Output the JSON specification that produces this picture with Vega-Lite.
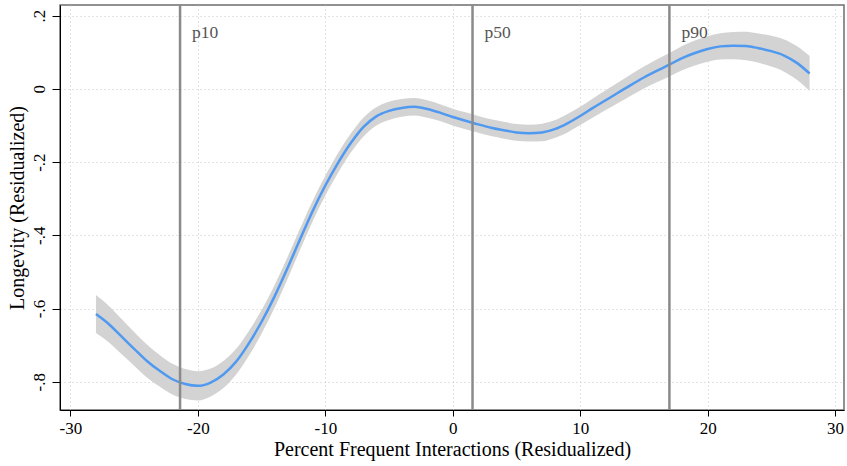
{
  "$schema": "https://vega.github.io/schema/vega-lite/v6.json",
  "width": 784,
  "height": 405,
  "autosize": "none",
  "padding": {"left": 60, "top": 5, "right": 3, "bottom": 56},
  "background": "white",
  "config": {
    "font": "Liberation Serif",
    "view": {"stroke": "#6e6e6e", "strokeWidth": 1.5},
    "axis": {
      "labelFont": "Liberation Serif",
      "titleFont": "Liberation Serif",
      "labelFontSize": 17,
      "titleFontSize": 20,
      "titleFontWeight": "normal",
      "labelColor": "#000",
      "titleColor": "#000",
      "domainColor": "#000",
      "tickColor": "#000",
      "gridColor": "#c8c8c8",
      "gridDash": [1, 3],
      "gridWidth": 1
    }
  },
  "datasets": {
    "curve": [
      {"x": -28, "y": -0.615, "lo": -0.667, "hi": -0.563},
      {"x": -27, "y": -0.642, "lo": -0.692, "hi": -0.592},
      {"x": -26, "y": -0.676, "lo": -0.724, "hi": -0.628},
      {"x": -25, "y": -0.710, "lo": -0.756, "hi": -0.664},
      {"x": -24, "y": -0.743, "lo": -0.788, "hi": -0.698},
      {"x": -23, "y": -0.770, "lo": -0.813, "hi": -0.727},
      {"x": -22, "y": -0.793, "lo": -0.835, "hi": -0.751},
      {"x": -21, "y": -0.806, "lo": -0.847, "hi": -0.765},
      {"x": -20, "y": -0.811, "lo": -0.851, "hi": -0.771},
      {"x": -19, "y": -0.802, "lo": -0.840, "hi": -0.764},
      {"x": -18, "y": -0.780, "lo": -0.817, "hi": -0.743},
      {"x": -17, "y": -0.745, "lo": -0.780, "hi": -0.710},
      {"x": -16, "y": -0.695, "lo": -0.729, "hi": -0.661},
      {"x": -15, "y": -0.636, "lo": -0.668, "hi": -0.604},
      {"x": -14, "y": -0.568, "lo": -0.599, "hi": -0.537},
      {"x": -13, "y": -0.492, "lo": -0.522, "hi": -0.462},
      {"x": -12, "y": -0.412, "lo": -0.441, "hi": -0.383},
      {"x": -11, "y": -0.334, "lo": -0.362, "hi": -0.306},
      {"x": -10, "y": -0.264, "lo": -0.291, "hi": -0.237},
      {"x": -9, "y": -0.202, "lo": -0.229, "hi": -0.175},
      {"x": -8, "y": -0.148, "lo": -0.174, "hi": -0.122},
      {"x": -7, "y": -0.104, "lo": -0.130, "hi": -0.078},
      {"x": -6, "y": -0.075, "lo": -0.100, "hi": -0.050},
      {"x": -5, "y": -0.060, "lo": -0.085, "hi": -0.035},
      {"x": -4, "y": -0.052, "lo": -0.076, "hi": -0.028},
      {"x": -3, "y": -0.049, "lo": -0.073, "hi": -0.025},
      {"x": -2, "y": -0.055, "lo": -0.079, "hi": -0.031},
      {"x": -1, "y": -0.065, "lo": -0.088, "hi": -0.042},
      {"x": 0, "y": -0.077, "lo": -0.100, "hi": -0.054},
      {"x": 1, "y": -0.087, "lo": -0.110, "hi": -0.064},
      {"x": 2, "y": -0.097, "lo": -0.120, "hi": -0.074},
      {"x": 3, "y": -0.106, "lo": -0.129, "hi": -0.083},
      {"x": 4, "y": -0.113, "lo": -0.136, "hi": -0.090},
      {"x": 5, "y": -0.119, "lo": -0.142, "hi": -0.096},
      {"x": 6, "y": -0.121, "lo": -0.144, "hi": -0.098},
      {"x": 7, "y": -0.119, "lo": -0.143, "hi": -0.095},
      {"x": 8, "y": -0.110, "lo": -0.134, "hi": -0.086},
      {"x": 9, "y": -0.094, "lo": -0.119, "hi": -0.069},
      {"x": 10, "y": -0.074, "lo": -0.099, "hi": -0.049},
      {"x": 11, "y": -0.052, "lo": -0.078, "hi": -0.026},
      {"x": 12, "y": -0.031, "lo": -0.058, "hi": -0.004},
      {"x": 13, "y": -0.010, "lo": -0.038, "hi": 0.018},
      {"x": 14, "y": 0.011, "lo": -0.018, "hi": 0.040},
      {"x": 15, "y": 0.031, "lo": 0.001, "hi": 0.061},
      {"x": 16, "y": 0.049, "lo": 0.018, "hi": 0.080},
      {"x": 17, "y": 0.066, "lo": 0.034, "hi": 0.098},
      {"x": 18, "y": 0.084, "lo": 0.051, "hi": 0.117},
      {"x": 19, "y": 0.098, "lo": 0.064, "hi": 0.132},
      {"x": 20, "y": 0.109, "lo": 0.074, "hi": 0.144},
      {"x": 21, "y": 0.116, "lo": 0.080, "hi": 0.152},
      {"x": 22, "y": 0.118, "lo": 0.081, "hi": 0.155},
      {"x": 23, "y": 0.117, "lo": 0.078, "hi": 0.156},
      {"x": 24, "y": 0.111, "lo": 0.071, "hi": 0.151},
      {"x": 25, "y": 0.103, "lo": 0.061, "hi": 0.145},
      {"x": 26, "y": 0.091, "lo": 0.047, "hi": 0.135},
      {"x": 27, "y": 0.071, "lo": 0.025, "hi": 0.117},
      {"x": 28, "y": 0.042, "lo": -0.006, "hi": 0.090}
    ],
    "pct": [
      {"p": -21.4, "label": "p10"},
      {"p": 1.55, "label": "p50"},
      {"p": 17.0, "label": "p90"}
    ]
  },
  "encoding": {
    "x": {
      "type": "quantitative",
      "scale": {"domain": [-30.82, 30.7], "nice": false, "zero": false},
      "axis": {
        "title": "Percent Frequent Interactions (Residualized)",
        "values": [-30, -20, -10, 0, 10, 20, 30],
        "labelExpr": "datum.value + ''",
        "tickSize": 6,
        "labelPadding": 4,
        "titlePadding": 3,
        "grid": true
      }
    }
  },
  "layer": [
    {
      "data": {"name": "curve"},
      "mark": {"type": "area", "color": "#d3d3d3", "interpolate": "monotone"},
      "encoding": {
        "x": {"field": "x", "type": "quantitative"},
        "y": {
          "field": "lo",
          "type": "quantitative",
          "scale": {"domain": [-0.877, 0.229], "nice": false, "zero": false},
          "axis": {
            "title": "Longevity (Residualized)",
            "values": [-0.8, -0.6, -0.4, -0.2, 0, 0.2],
            "labelExpr": "datum.value == 0 ? '0' : replace(datum.value + '', '0.', '.')",
            "labelAngle": -90,
            "labelAlign": "center",
            "labelBaseline": "bottom",
            "tickSize": 8,
            "labelPadding": 4,
            "titlePadding": 3,
            "grid": true
          }
        },
        "y2": {"field": "hi"}
      }
    },
    {
      "data": {"name": "curve"},
      "mark": {"type": "line", "color": "#4f99f0", "strokeWidth": 2.5, "interpolate": "monotone"},
      "encoding": {
        "x": {"field": "x", "type": "quantitative"},
        "y": {"field": "y", "type": "quantitative"}
      }
    },
    {
      "data": {"name": "pct"},
      "mark": {"type": "rule", "color": "#8a8a8a", "strokeWidth": 2.5},
      "encoding": {
        "x": {"field": "p", "type": "quantitative"}
      }
    },
    {
      "data": {"name": "pct"},
      "mark": {"type": "text", "align": "left", "baseline": "alphabetic", "dx": 12, "fontSize": 17.5, "color": "#555555", "font": "Liberation Serif"},
      "encoding": {
        "x": {"field": "p", "type": "quantitative"},
        "y": {"datum": 0.14, "type": "quantitative"},
        "text": {"field": "label"}
      }
    }
  ]
}
